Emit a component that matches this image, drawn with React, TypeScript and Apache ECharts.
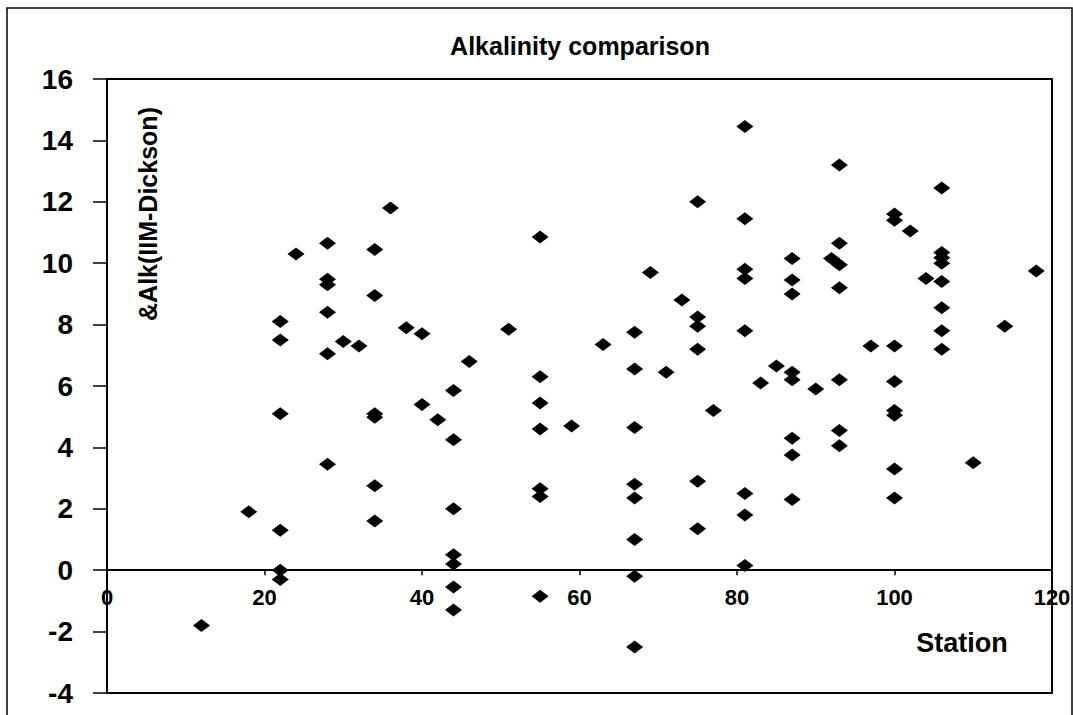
import React, { useEffect, useRef } from "react";
import * as echarts from "echarts";

const titleText = "Alkalinity comparison";
const yAxisTitle = "&Alk(IIM-Dickson)";
const xAxisTitle = "Station";

const xTicks = [0, 20, 40, 60, 80, 100, 120];
const yTicks = [-4, -2, 0, 2, 4, 6, 8, 10, 12, 14, 16];

// station numbers and the matching alkalinity difference values
const stations = [
  12, 18,
  22, 22, 22, 22, 22, 22,
  24,
  28, 28, 28, 28, 28, 28,
  30, 32,
  34, 34, 34, 34, 34, 34,
  36, 38, 40, 40, 42,
  44, 44, 44, 44, 44, 44, 44,
  46, 51,
  55, 55, 55, 55, 55, 55, 55,
  59, 63,
  67, 67, 67, 67, 67, 67, 67, 67,
  69, 71, 73,
  75, 75, 75, 75, 75, 75,
  77,
  81, 81, 81, 81, 81, 81, 81, 81,
  83, 85,
  87, 87, 87, 87, 87, 87, 87, 87,
  90, 92,
  93, 93, 93, 93, 93, 93, 93,
  97,
  100, 100, 100, 100, 100, 100, 100, 100,
  102, 104,
  106, 106, 106, 106, 106, 106, 106, 106,
  110, 114, 118,
];

const alkDiff = [
  -1.8, 1.9,
  8.1, 7.5, 5.1, 1.3, 0.0, -0.3,
  10.3,
  10.65, 9.48, 9.3, 8.4, 7.05, 3.45,
  7.45, 7.3,
  10.45, 8.95, 5.1, 4.98, 2.75, 1.6,
  11.8, 7.9, 7.7, 5.4, 4.9,
  5.85, 4.25, 2.0, 0.5, 0.2, -0.55, -1.3,
  6.8, 7.85,
  10.85, 6.3, 5.45, 4.6, 2.65, 2.4, -0.85,
  4.7, 7.35,
  7.75, 6.55, 4.65, 2.8, 2.35, 1.0, -0.2, -2.5,
  9.7, 6.45, 8.8,
  12.0, 8.25, 7.95, 7.2, 2.9, 1.35,
  5.2,
  14.45, 11.45, 9.8, 9.5, 7.8, 2.5, 1.8, 0.15,
  6.1, 6.65,
  10.15, 9.45, 9.0, 6.45, 6.2, 4.3, 3.75, 2.3,
  5.9, 10.15,
  13.2, 10.65, 9.95, 9.2, 6.2, 4.55, 4.05,
  7.3,
  11.6, 11.4, 7.3, 6.15, 5.2, 5.05, 3.3, 2.35,
  11.05, 9.5,
  12.45, 10.35, 10.18, 10.0, 9.4, 8.55, 7.8, 7.2,
  3.5, 7.95, 9.75,
];

const FONT = "'Liberation Sans', Arial, Helvetica, sans-serif";

const GRID_TOP = 79;
const GRID_HEIGHT = 614;

export default function App() {
  const ref = useRef<HTMLDivElement>(null);

  useEffect(() => {
    if (!ref.current) return;
    const chart = echarts.init(ref.current, undefined, { renderer: "svg" });
    const points = stations.map((s, i) => [s, alkDiff[i]]);
    const yMin = yTicks[0];
    const yMax = yTicks[yTicks.length - 1];
    // distance from grid bottom up to the zero line
    const zeroOffset = (GRID_HEIGHT * (0 - yMin)) / (yMax - yMin);

    chart.setOption({
      animation: false,
      backgroundColor: "#ffffff",
      textStyle: { fontFamily: FONT },
      grid: {
        show: true,
        left: 107,
        top: GRID_TOP,
        width: 945,
        height: GRID_HEIGHT,
        borderColor: "#000",
        borderWidth: 2,
        backgroundColor: "transparent",
        outerBoundsMode: "none",
        containLabel: false,
      },
      xAxis: {
        type: "value",
        position: "bottom",
        offset: -zeroOffset,
        min: xTicks[0],
        max: xTicks[xTicks.length - 1],
        interval: 20,
        axisLine: { show: true, onZero: false, lineStyle: { color: "#000", width: 2 } },
        axisTick: { show: true, inside: false, length: 5, lineStyle: { color: "#000", width: 1.5 } },
        axisLabel: {
          color: "#000",
          fontSize: 22,
          fontWeight: "bold",
          fontFamily: FONT,
          margin: 16,
        },
        splitLine: { show: false },
      },
      yAxis: {
        type: "value",
        min: yMin,
        max: yMax,
        interval: 2,
        axisLine: { show: true, onZero: false, lineStyle: { color: "#000", width: 2 } },
        axisTick: { show: true, inside: false, length: 14, lineStyle: { color: "#000", width: 1.5 } },
        axisLabel: {
          color: "#000",
          fontSize: 28,
          fontWeight: "bold",
          fontFamily: FONT,
          margin: 34,
        },
        splitLine: { show: false },
      },
      series: [
        {
          type: "scatter",
          data: points,
          symbol: "diamond",
          symbolSize: [17, 13],
          itemStyle: { color: "#000", opacity: 1 },
        },
      ],
      graphic: [
        {
          type: "rect",
          shape: { x: 7, y: 8, width: 1065, height: 730 },
          style: { fill: "none", stroke: "#000", lineWidth: 1.5 },
          silent: true,
          z: -1,
        },
        {
          type: "text",
          x: 580,
          y: 46,
          style: {
            text: titleText,
            font: `bold 25px ${FONT}`,
            fill: "#000",
            textAlign: "center",
            textVerticalAlign: "middle",
          },
        },
        {
          type: "text",
          x: 148,
          y: 214,
          rotation: Math.PI / 2,
          style: {
            text: yAxisTitle,
            font: `bold 25px ${FONT}`,
            fill: "#000",
            textAlign: "center",
            textVerticalAlign: "middle",
          },
        },
        {
          type: "text",
          x: 962,
          y: 643,
          style: {
            text: xAxisTitle,
            font: `bold 27px ${FONT}`,
            fill: "#000",
            textAlign: "center",
            textVerticalAlign: "middle",
          },
        },
      ],
    });

    return () => chart.dispose();
  }, []);

  return (
    <div
      ref={ref}
      style={{ position: "fixed", left: 0, top: 0, width: 1073, height: 715, background: "#fff" }}
    />
  );
}
